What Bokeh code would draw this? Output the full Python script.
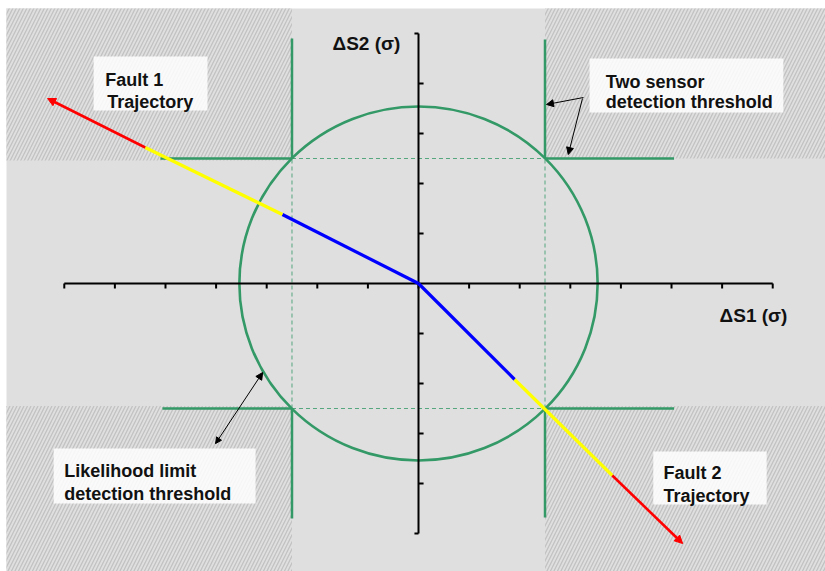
from bokeh.plotting import figure
from bokeh.models import ColumnDataSource, Arrow, NormalHead
from bokeh.core.properties import value
from bokeh.embed import file_html
from bokeh.resources import INLINE

# ---------------- data ----------------
x_ticks = [-7, -6, -5, -4, -3, -2, -1, 0, 1, 2, 3, 4, 5, 6, 7]
y_ticks_inner = [-4, -3, -2, -1, 1, 2, 3, 4]
y_ends = [-5, 5]

threshold = 2.5            # two-sensor detection threshold (sigma)
radius = 3.54              # likelihood limit detection threshold (sigma)

fault1_x = [0.0, -2.69, -5.40, -7.33]
fault1_y = [0.0, 1.38, 2.72, 3.70]
fault2_x = [0.0, 1.90, 3.83, 5.22]
fault2_y = [0.0, -1.92, -3.84, -5.20]
seg_colors = ["#0000ff", "#ffff00", "#ff0000"]

box_text = ["Fault 1", "Trajectory",
            "Two sensor", "detection threshold",
            "Likelihood limit", "detection threshold",
            "Fault 2", "Trajectory"]
axis_text = ["\u0394S2 (\u03c3)", "\u0394S1 (\u03c3)"]

GREEN = "#339966"
BG = "#dfdfdf"

p = figure(width=825, height=571, x_range=(-8.142, 8.043), y_range=(-5.76, 5.5),
           output_backend="svg", toolbar_location=None,
           min_border_left=6, min_border_top=8, min_border_right=0, min_border_bottom=0,
           x_axis_type=None, y_axis_type=None,
           background_fill_color=BG, border_fill_color="white")
p.outline_line_color = None

# hatched regions (both sensors beyond threshold)
t = threshold
p.quad(left=[-8.3, t, -8.3, t], right=[-t, 8.2, -t, 8.2],
       bottom=[t - 0.04, t, -5.9, -5.9], top=[5.7, 5.7, -t + 0.05, -t + 0.05],
       fill_color=BG, line_color=None, hatch_pattern="/",
       hatch_color="#c2c2c2", hatch_scale=7, hatch_weight=1.3)

# white label boxes
p.quad(left=[-6.42, 3.38, -7.21, 4.64], right=[-4.17, 7.21, -3.22, 6.88],
       top=[4.54, 4.50, -3.30, -3.36], bottom=[3.46, 3.42, -4.40, -4.42],
       fill_color="white", fill_alpha=0.85, line_color=None)

# dashed threshold lines inside
p.segment(x0=[-t, t, -t, -t], y0=[-t, -t, t, -t], x1=[-t, t, t, t], y1=[t, t, t, -t],
          line_color=GREEN, line_width=1, line_dash="4 3", line_alpha=0.8)

# solid threshold lines
p.segment(x0=[-t, -t, t, t, -5.1, t, -5.06, t],
          y0=[t, -t, t, -t, t, t, -t, -t],
          x1=[-t, -t, t, t, -t, 5.05, -t, 5.05],
          y1=[4.9, -4.7, 4.88, -4.68, t, t, -t, -t],
          line_color=GREEN, line_width=2.5)

# likelihood circle
p.ellipse(x=0, y=0, width=2 * radius, height=2 * radius,
          fill_color=None, line_color=GREEN, line_width=2.6)

# axes
p.segment(x0=[x_ticks[0], 0], y0=[0, y_ends[0]], x1=[x_ticks[-1], 0], y1=[0, y_ends[1]],
          line_color="black", line_width=2)
p.segment(x0=x_ticks, y0=[0] * len(x_ticks), x1=x_ticks, y1=[-0.1] * len(x_ticks),
          line_color="black", line_width=2)
p.segment(x0=[0] * len(y_ticks_inner), y0=y_ticks_inner,
          x1=[0.1] * len(y_ticks_inner), y1=y_ticks_inner, line_color="black", line_width=2)
p.segment(x0=[0, 0], y0=y_ends, x1=[-0.08, -0.08], y1=y_ends, line_color="black", line_width=2)

# trajectories
for fx, fy in ((fault1_x, fault1_y), (fault2_x, fault2_y)):
    p.segment(x0=fx[:2], y0=fy[:2], x1=fx[1:3], y1=fy[1:3],
              line_color=seg_colors[:2], line_width=3.2)
    p.add_layout(Arrow(x_start=fx[2], y_start=fy[2], x_end=fx[3], y_end=fy[3],
                       line_color=seg_colors[2], line_width=2.6,
                       end=NormalHead(size=8, fill_color=seg_colors[2],
                                      line_color=seg_colors[2])))

# annotation arrows
for xs, ys, xe, ye in ((3.26, 3.72, 2.53, 3.58), (3.24, 3.70, 2.96, 2.58),
                       (-4.01, -3.20, -3.08, -1.78)):
    p.add_layout(Arrow(x_start=xs, y_start=ys, x_end=xe, y_end=ye,
                       line_color="black", line_width=1,
                       end=NormalHead(size=7, fill_color="black", line_color="black")))
p.add_layout(Arrow(x_start=-3.6, y_start=-2.6, x_end=-4.01, y_end=-3.20,
                   line_color="black", line_width=1, line_alpha=0,
                   end=NormalHead(size=6, fill_color="black", line_color="black")))

# labels
src = ColumnDataSource(dict(
    x=[-6.19, -6.15, 3.70, 3.70, -7.0, -7.0, 4.84, 4.84],
    y=[4.08, 3.63, 4.04, 3.63, -3.75, -4.20, -3.79, -4.24],
    text=box_text))
p.text(x="x", y="y", text="text", source=src, text_font=value("Liberation Sans"),
       text_font_style="bold", text_font_size="18px", text_color="#111111",
       text_baseline="alphabetic", text_align="left")

src2 = ColumnDataSource(dict(x=[-1.70, 5.95], y=[4.81, -0.64], text=axis_text))
p.text(x="x", y="y", text="text", source=src2, text_font=value("Liberation Sans"),
       text_font_style="bold", text_font_size="19px", text_color="#111111",
       text_baseline="alphabetic", text_align="left")

open("out.html", "w").write(file_html(p, INLINE))
